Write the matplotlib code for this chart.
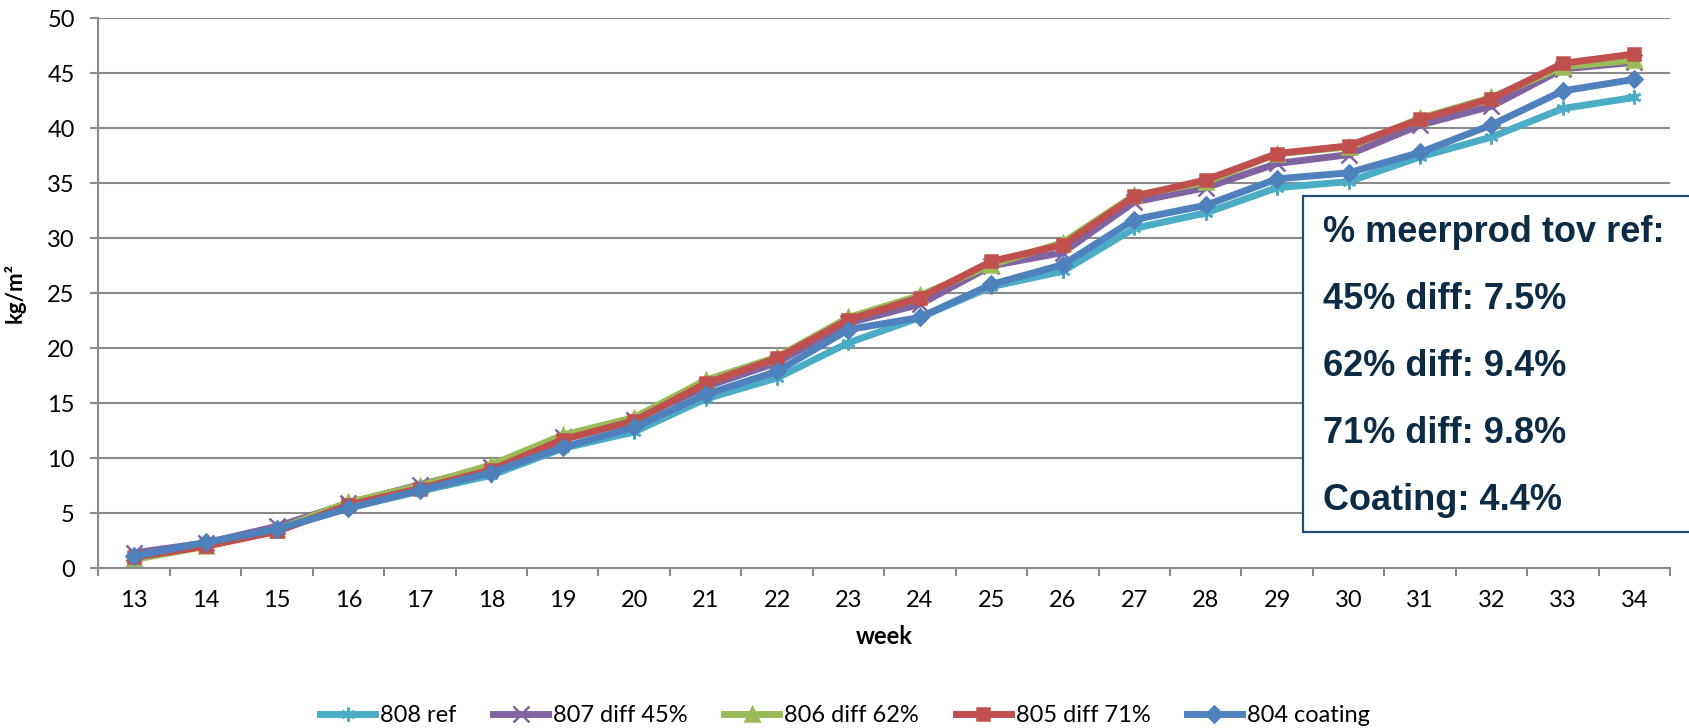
import matplotlib.pyplot as plt
from matplotlib.patches import Rectangle

plt.rcParams['font.family'] = ['Lato', 'DejaVu Sans']

WEEKS = [13, 14, 15, 16, 17, 18, 19, 20, 21, 22, 23, 24, 25, 26, 27, 28, 29, 30, 31, 32, 33, 34]

REF_808 = [1.0, 2.2, 3.5, 5.5, 7.0, 8.45, 10.9, 12.4, 15.4, 17.3, 20.5, 22.8,
           25.6, 27.0, 30.9, 32.3, 34.6, 35.15, 37.4, 39.2, 41.8, 42.8]
DIFF45_807 = [1.4, 2.3, 3.8, 5.9, 7.6, 9.2, 11.9, 13.5, 16.5, 18.7, 22.3, 24.0,
              27.5, 28.7, 33.3, 34.6, 36.8, 37.6, 40.3, 42.0, 45.4, 46.0]
DIFF62_806 = [0.8, 2.0, 3.5, 6.0, 7.5, 9.4, 12.1, 13.7, 17.1, 19.2, 22.8, 24.8,
              27.6, 29.6, 33.9, 35.1, 37.7, 38.3, 40.9, 42.8, 45.6, 46.2]
DIFF71_805 = [1.0, 2.0, 3.35, 5.75, 7.25, 8.95, 11.7, 13.4, 16.8, 19.1, 22.6, 24.6,
              27.9, 29.4, 33.8, 35.3, 37.7, 38.4, 40.8, 42.7, 45.9, 46.75]
COATING_804 = [1.1, 2.35, 3.55, 5.45, 7.1, 8.7, 11.0, 12.8, 15.8, 17.9, 21.7, 22.8,
               25.8, 27.6, 31.7, 33.0, 35.4, 35.95, 37.8, 40.3, 43.4, 44.45]

SERIES = [
    ('808 ref', REF_808, '#4BACC6', (6, 2, 0), 10),
    ('807 diff 45%', DIFF45_807, '#8064A2', 'x', 11),
    ('806 diff 62%', DIFF62_806, '#9BBB59', '^', 10),
    ('805 diff 71%', DIFF71_805, '#C0504D', 's', 9),
    ('804 coating', COATING_804, '#4F81BD', 'D', 8),
]

BOX_LINES = ['% meerprod tov ref:', '45% diff: 7.5%', '62% diff: 9.4%',
             '71% diff: 9.8%', 'Coating: 4.4%']

GRID = '#8a8a8a'

fig = plt.figure(figsize=(16.9, 7.28), dpi=100)
ax = fig.add_axes([0.0582, 0.2194, 0.9300, 0.7555])

x = list(range(len(WEEKS)))
for name, vals, color, marker, ms in SERIES:
    ax.plot(x, vals, color=color, lw=5, marker=marker, ms=ms,
            mfc=color, mec=color, mew=1.8, label=name, solid_joinstyle='round')

ax.set_xlim(-0.5, len(WEEKS) - 0.5)
ax.set_ylim(0, 50)
ax.set_yticks(range(0, 51, 5))
ax.set_xticks(x)
ax.set_xticklabels([str(w) for w in WEEKS])
ax.set_xticks([i - 0.5 for i in range(len(WEEKS) + 1)], minor=True)

ax.grid(axis='y', color=GRID, lw=1.5)
ax.set_axisbelow(True)
for side in ('top', 'right'):
    ax.spines[side].set_visible(False)
for side in ('left', 'bottom'):
    ax.spines[side].set_color(GRID)
    ax.spines[side].set_linewidth(1.5)

ax.tick_params(axis='y', length=6, width=1.5, color=GRID, pad=11, labelsize=17)
ax.tick_params(axis='x', which='major', length=0, pad=16, labelsize=17)
ax.tick_params(axis='x', which='minor', length=6, width=1.5, color=GRID)

ax.set_ylabel('kg/m²', fontsize=16, fontweight='bold')
ax.yaxis.set_label_coords(-0.046, 0.5)
ax.set_xlabel('week', fontsize=17, fontweight='bold', labelpad=10)

fig.legend(loc='center', bbox_to_anchor=(0.5, 1 - 715.7 / 728), ncol=5,
           frameon=False, fontsize=17, handlelength=2.33, handletextpad=0.21,
           columnspacing=1.55)

# text box with the production gain figures, running off the right edge
box = Rectangle((1302.7 / 1690, 1 - 531.7 / 728), 0.25, 335.7 / 728,
                transform=fig.transFigure, facecolor='white',
                edgecolor='#1F4E79', lw=1.6, zorder=5)
fig.add_artist(box)
baselines = [242, 309, 376, 443, 510]
for line, yb in zip(BOX_LINES, baselines):
    fig.text(1323 / 1690, 1 - yb / 728, line, fontsize=26, fontweight='bold',
             color='#0c2b45', va='baseline', ha='left',
             family=['Liberation Sans', 'DejaVu Sans'], zorder=6)

fig.savefig('out.png', dpi=100)
